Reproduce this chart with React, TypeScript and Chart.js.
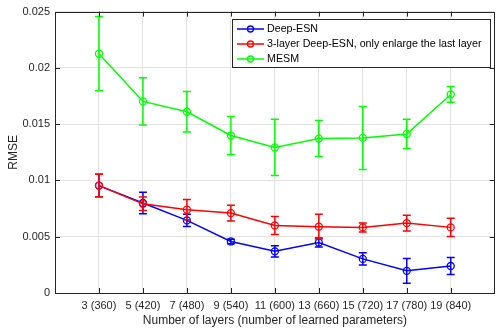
import React, { useEffect, useRef } from "react";
import { Chart, registerables } from "chart.js";

Chart.register(...registerables);

const layers = [3, 5, 7, 9, 11, 13, 15, 17, 19];
const tickLabels = ["3 (360)", "5 (420)", "7 (480)", "9 (540)", "11 (600)", "13 (660)", "15 (720)", "17 (780)", "19 (840)"];
const yTicks = [0, 0.005, 0.01, 0.015, 0.02, 0.025];

const deepEsn = [0.00954, 0.0080, 0.00645, 0.00458, 0.0037, 0.00448, 0.00303, 0.00197, 0.0024];
const deepEsnErr = [0.001, 0.00095, 0.00055, 0.0002, 0.0005, 0.0004, 0.00055, 0.0011, 0.00075];

const threeLayer = [0.00954, 0.00792, 0.0074, 0.0071, 0.006, 0.00589, 0.00583, 0.00621, 0.00583];
const threeLayerErr = [0.001, 0.0006, 0.0009, 0.0007, 0.0008, 0.0011, 0.0004, 0.0007, 0.0008];

const mesm = [0.02126, 0.01702, 0.0161, 0.01399, 0.01293, 0.01372, 0.01378, 0.01413, 0.01764];
const mesmErr = [0.0033, 0.0021, 0.0018, 0.0017, 0.0025, 0.0016, 0.0028, 0.0013, 0.0007];

const seriesNames = ["Deep-ESN", "3-layer Deep-ESN, only enlarge the last layer", "MESM"];
const seriesColors = ["#0000ff", "#ff0000", "#00ff00"];

const FONT = "'Liberation Sans', Arial, Helvetica, sans-serif";
const AXIS = "#262626";

export default function App() {
  const ref = useRef<HTMLCanvasElement | null>(null);

  useEffect(() => {
    document.body.style.margin = "0";
    const canvas = ref.current;
    if (!canvas) return;

    const values = [deepEsn, threeLayer, mesm];
    const errs = [deepEsnErr, threeLayerErr, mesmErr];

    const datasets = values.map((vals, i) => ({
      label: seriesNames[i],
      data: vals.map((v, j) => ({ x: layers[j], y: v })),
      borderColor: seriesColors[i],
      backgroundColor: seriesColors[i],
      borderWidth: 1.5,
      pointRadius: 3.5,
      pointBorderWidth: 1.3,
      pointBackgroundColor: "rgba(0,0,0,0)",
      pointBorderColor: seriesColors[i],
      tension: 0,
      order: 2 - i,
      errs: errs[i],
    }));

    const errorBars = {
      id: "errorBars",
      afterDatasetDraw(chart: any, args: any) {
        const idx = args.index;
        const ds = chart.data.datasets[idx];
        const xs = chart.scales.x;
        const ys = chart.scales.y;
        const ctx = chart.ctx;
        ctx.save();
        ctx.strokeStyle = ds.borderColor;
        ctx.lineWidth = 1.5;
        ds.data.forEach((p: any, j: number) => {
          const e = ds.errs[j];
          const px = xs.getPixelForValue(p.x);
          const top = ys.getPixelForValue(p.y + e);
          const bot = ys.getPixelForValue(p.y - e);
          ctx.beginPath();
          ctx.moveTo(px, top);
          ctx.lineTo(px, bot);
          ctx.moveTo(px - 4, top);
          ctx.lineTo(px + 4, top);
          ctx.moveTo(px - 4, bot);
          ctx.lineTo(px + 4, bot);
          ctx.stroke();
        });
        ctx.restore();
      },
    };

    const frame = {
      id: "frame",
      afterDraw(chart: any) {
        const ctx = chart.ctx;
        const a = chart.chartArea;
        const xs = chart.scales.x;
        const ys = chart.scales.y;
        ctx.save();
        ctx.strokeStyle = AXIS;
        ctx.lineWidth = 1;
        ctx.strokeRect(Math.round(a.left) + 0.5, Math.round(a.top) + 0.5, Math.round(a.right - a.left) - 1, Math.round(a.bottom - a.top));
        ctx.beginPath();
        layers.forEach((l) => {
          const px = Math.round(xs.getPixelForValue(l)) + 0.5;
          ctx.moveTo(px, a.top);
          ctx.lineTo(px, a.top + 5);
          ctx.moveTo(px, a.bottom);
          ctx.lineTo(px, a.bottom - 5);
        });
        yTicks.forEach((t) => {
          const py = Math.round(ys.getPixelForValue(t)) + 0.5;
          ctx.moveTo(a.left, py);
          ctx.lineTo(a.left + 5, py);
          ctx.moveTo(a.right, py);
          ctx.lineTo(a.right - 5, py);
        });
        ctx.stroke();

        // legend
        const lx = 232.5, ly = 19.5, lw = 258, lh = 48;
        ctx.fillStyle = "#ffffff";
        ctx.fillRect(lx, ly, lw, lh);
        ctx.strokeStyle = AXIS;
        ctx.strokeRect(lx, ly, lw, lh);
        ctx.font = `10.7px ${FONT}`;
        ctx.textBaseline = "middle";
        ctx.textAlign = "left";
        seriesNames.forEach((name, i) => {
          const y = 29 + i * 15;
          ctx.strokeStyle = seriesColors[i];
          ctx.lineWidth = 1.5;
          ctx.beginPath();
          ctx.moveTo(237, y);
          ctx.lineTo(264, y);
          ctx.stroke();
          ctx.beginPath();
          ctx.lineWidth = 1.3;
          ctx.arc(250.5, y, 3, 0, Math.PI * 2);
          ctx.stroke();
          ctx.fillStyle = "#000000";
          ctx.fillText(name, 267, y + 0.5);
        });
        ctx.restore();
      },
    };

    const chart = new Chart(canvas, {
      type: "line",
      data: { datasets: datasets as any },
      plugins: [errorBars, frame],
      options: {
        animation: false,
        responsive: false,
        maintainAspectRatio: false,
        layout: { padding: { top: 10, right: 2, left: 0, bottom: 0 } },
        plugins: { legend: { display: false }, tooltip: { enabled: false } },
        scales: {
          x: {
            type: "linear",
            min: 1,
            max: 21,
            afterBuildTicks: (scale: any) => {
              scale.ticks = layers.map((v) => ({ value: v }));
            },
            afterFit: (scale: any) => {
              scale.height = 40;
            },
            ticks: {
              autoSkip: false,
              maxRotation: 0,
              padding: 6,
              color: AXIS,
              font: { family: FONT, size: 11 },
              callback: (v: any) => {
                const i = layers.indexOf(Number(v));
                return i >= 0 ? tickLabels[i] : "";
              },
            },
            grid: { color: "#e3e3e3", lineWidth: 1, drawTicks: false },
            border: { display: false },
            title: {
              display: true,
              text: "Number of layers (number of learned parameters)",
              color: AXIS,
              font: { family: FONT, size: 12 },
              padding: { top: 0, bottom: 5 },
            },
          },
          y: {
            type: "linear",
            min: 0,
            max: 0.025,
            afterBuildTicks: (scale: any) => {
              scale.ticks = yTicks.map((v) => ({ value: v }));
            },
            afterFit: (scale: any) => {
              scale.width = 55;
            },
            ticks: {
              padding: 5,
              color: AXIS,
              font: { family: FONT, size: 11 },
              callback: (v: any) => String(Number(Number(v).toFixed(3))),
            },
            grid: { color: "#e3e3e3", lineWidth: 1, drawTicks: false },
            border: { display: false },
            title: {
              display: true,
              text: "RMSE",
              color: AXIS,
              font: { family: FONT, size: 12 },
              padding: { top: 6, bottom: 0 },
            },
          },
        },
      },
    });

    return () => chart.destroy();
  }, []);

  return (
    <div style={{ width: 500, height: 333 }}>
      <canvas ref={ref} width={500} height={333} style={{ display: "block" }} />
    </div>
  );
}
